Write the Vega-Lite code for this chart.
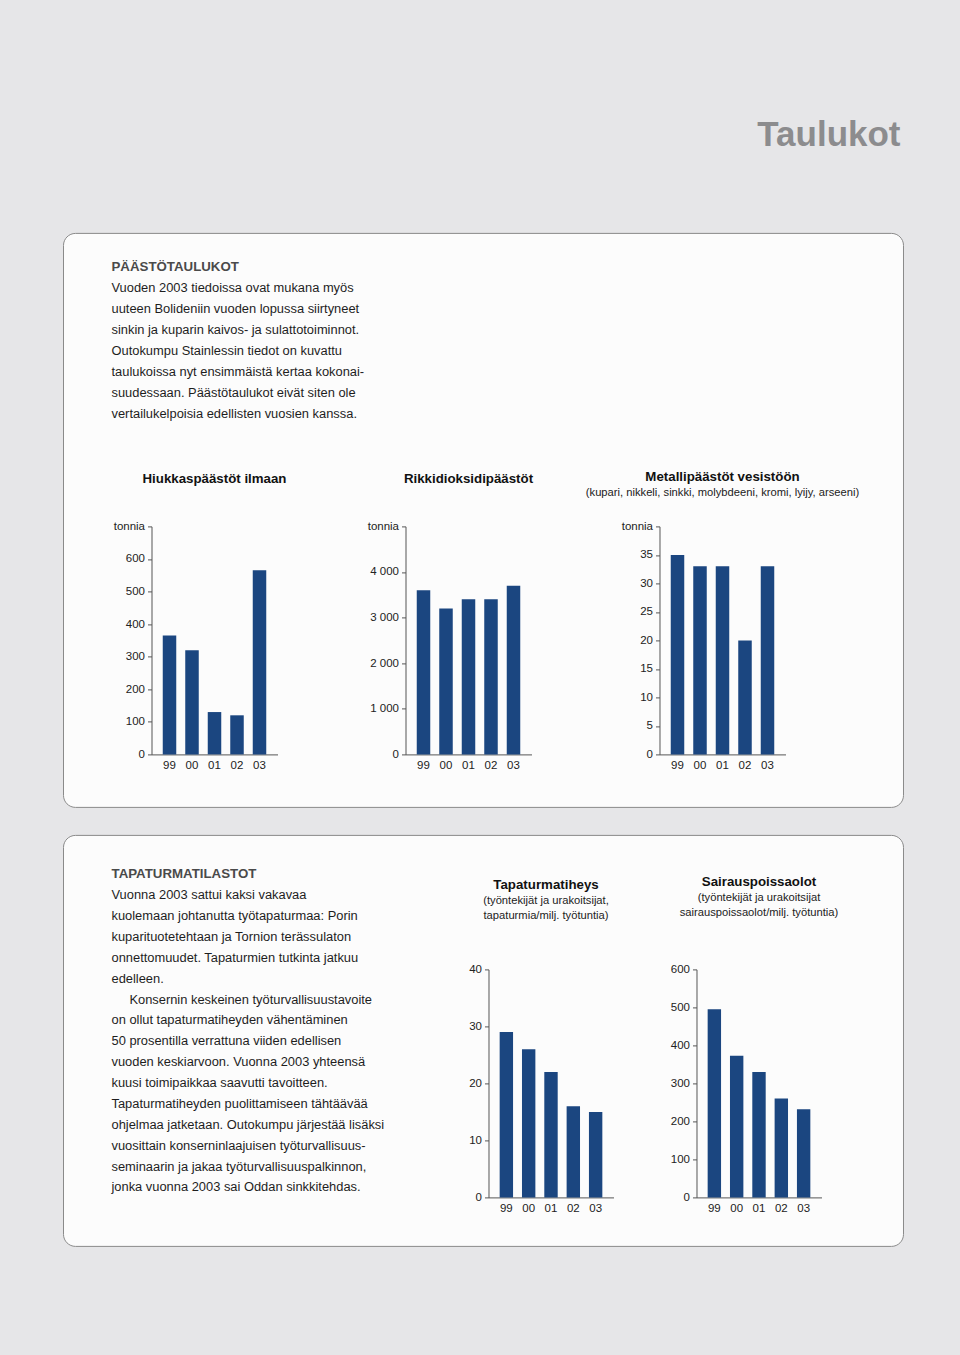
{
  "$schema": "https://vega.github.io/schema/vega-lite/v6.json",
  "background": "#e6e6e8",
  "padding": {"left": 62.5, "top": 117.4, "right": 56.5, "bottom": 110.5},
  "config": {
    "font": "Liberation Sans",
    "view": {"stroke": null},
    "axis": {"grid": false, "domainColor": "#555555", "tickColor": "#555555", "labelColor": "#222222", "labelFont": "Liberation Sans", "labelFontSize": 11.5, "labelOverlap": false, "title": null},
    "title": {"font": "Liberation Sans", "fontSize": 13.3, "fontWeight": "bold", "color": "#111111", "anchor": "middle", "frame": "group", "subtitleFont": "Liberation Sans", "subtitleFontSize": 11.2, "subtitleColor": "#222222", "subtitlePadding": 3.5, "subtitleLineHeight": 15},
    "bar": {"color": "#1b4680"}
  },
  "spacing": 26,
  "vconcat": [
    {
      "bounds": "flush",
      "spacing": 0,
      "vconcat": [
        {
          "width": 840,
          "height": 293,
          "title": {"text": "Taulukot", "anchor": "end", "frame": "group", "offset": 80.2, "dx": -3, "fontSize": 35, "font": "Liberation Sans", "fontWeight": "bold", "color": "#8c8c8e"},
          "resolve": {"scale": {"y": "independent"}},
          "layer": [
            {
              "data": {"values": [{"laatikko": "PÄÄSTÖTAULUKOT"}]},
              "mark": {"type": "rect", "cornerRadius": 12, "fill": "#fcfcfc", "stroke": "#8a8a8a", "strokeWidth": 1},
              "encoding": {
                "x": {"datum": 0, "type": "quantitative", "scale": {"domain": [0, 840], "nice": false}, "axis": null},
                "x2": {"datum": 840},
                "y": {"datum": 0, "type": "quantitative", "scale": {"domain": [0, 293], "reverse": true, "nice": false}, "axis": null},
                "y2": {"datum": 574}
              }
            },
            {
              "data": {"values": [
                {"line": 0, "text": "PÄÄSTÖTAULUKOT"},
                {"line": 1, "text": "Vuoden 2003 tiedoissa ovat mukana myös"},
                {"line": 2, "text": "uuteen Bolideniin vuoden lopussa siirtyneet"},
                {"line": 3, "text": "sinkin ja kuparin kaivos- ja sulattotoiminnot."},
                {"line": 4, "text": "Outokumpu Stainlessin tiedot on kuvattu"},
                {"line": 5, "text": "taulukoissa nyt ensimmäistä kertaa kokonai-"},
                {"line": 6, "text": "suudessaan. Päästötaulukot eivät siten ole"},
                {"line": 7, "text": "vertailukelpoisia edellisten vuosien kanssa."}
              ]},
              "encoding": {
                "x": {"datum": 48, "type": "quantitative"},
                "y": {"field": "line", "type": "quantitative", "scale": {"domain": [-1.619, 12.333], "reverse": true, "nice": false, "zero": false}, "axis": null},
                "text": {"field": "text"}
              },
              "layer": [
                {"transform": [{"filter": "datum.line == 0"}], "mark": {"type": "text", "align": "left", "baseline": "middle", "fontSize": 13.3, "fontWeight": "bold", "color": "#4a4a4a"}},
                {"transform": [{"filter": "datum.line > 0"}], "mark": {"type": "text", "align": "left", "baseline": "middle", "fontSize": 12.9, "color": "#1e1e1e"}}
              ]
            }
          ]
        },
        {
          "bounds": "flush",
          "spacing": 0,
          "hconcat": [
            {"width": 88, "height": 228, "data": {"values": [{"t": ""}]}, "mark": {"type": "text"}, "encoding": {"text": {"field": "t"}}},
            {
              "bounds": "flush",
              "spacing": 128,
              "hconcat": [
                {
                  "width": 126, "height": 228,
                  "title": {"text": "Hiukkaspäästöt ilmaan", "offset": 35},
                  "data": {"values": [{"vuosi": "99", "arvo": 365}, {"vuosi": "00", "arvo": 320}, {"vuosi": "01", "arvo": 130}, {"vuosi": "02", "arvo": 120}, {"vuosi": "03", "arvo": 565}]},
                  "mark": {"type": "bar"},
                  "encoding": {
                    "x": {"field": "vuosi", "type": "nominal", "sort": null, "scale": {"paddingInner": 0.4, "paddingOuter": 0.5}, "axis": {"labelAngle": 0, "ticks": false, "labelPadding": 5}},
                    "y": {"field": "arvo", "type": "quantitative", "scale": {"domain": [0, 700], "nice": false}, "axis": {"values": [0, 100, 200, 300, 400, 500, 600, 700], "labelExpr": "datum.value === 700 ? 'tonnia' : datum.label", "tickSize": 4, "labelPadding": 3}}
                  }
                },
                {
                  "width": 126, "height": 228,
                  "title": {"text": "Rikkidioksidipäästöt", "offset": 35},
                  "data": {"values": [{"vuosi": "99", "arvo": 3600}, {"vuosi": "00", "arvo": 3200}, {"vuosi": "01", "arvo": 3400}, {"vuosi": "02", "arvo": 3400}, {"vuosi": "03", "arvo": 3700}]},
                  "mark": {"type": "bar"},
                  "encoding": {
                    "x": {"field": "vuosi", "type": "nominal", "sort": null, "scale": {"paddingInner": 0.4, "paddingOuter": 0.5}, "axis": {"labelAngle": 0, "ticks": false, "labelPadding": 5}},
                    "y": {"field": "arvo", "type": "quantitative", "scale": {"domain": [0, 5000], "nice": false}, "axis": {"values": [0, 1000, 2000, 3000, 4000, 5000], "labelExpr": "datum.value === 5000 ? 'tonnia' : replace(format(datum.value, ','), ',', ' ')", "tickSize": 4, "labelPadding": 3}}
                  }
                },
                {
                  "width": 126, "height": 228,
                  "title": {"text": "Metallipäästöt vesistöön", "subtitle": "(kupari, nikkeli, sinkki, molybdeeni, kromi, lyijy, arseeni)", "offset": 22},
                  "data": {"values": [{"vuosi": "99", "arvo": 35}, {"vuosi": "00", "arvo": 33}, {"vuosi": "01", "arvo": 33}, {"vuosi": "02", "arvo": 20}, {"vuosi": "03", "arvo": 33}]},
                  "mark": {"type": "bar"},
                  "encoding": {
                    "x": {"field": "vuosi", "type": "nominal", "sort": null, "scale": {"paddingInner": 0.4, "paddingOuter": 0.5}, "axis": {"labelAngle": 0, "ticks": false, "labelPadding": 5}},
                    "y": {"field": "arvo", "type": "quantitative", "scale": {"domain": [0, 40], "nice": false}, "axis": {"values": [0, 5, 10, 15, 20, 25, 30, 35, 40], "labelExpr": "datum.value === 40 ? 'tonnia' : datum.label", "tickSize": 4, "labelPadding": 3}}
                  }
                }
              ]
            }
          ]
        }
      ]
    },
    {
      "bounds": "flush",
      "spacing": 0,
      "vconcat": [
        {
          "width": 840,
          "height": 133.5,
          "resolve": {"scale": {"y": "independent"}},
          "layer": [
            {
              "data": {"values": [{"laatikko": "TAPATURMATILASTOT"}]},
              "mark": {"type": "rect", "cornerRadius": 12, "fill": "#fcfcfc", "stroke": "#8a8a8a", "strokeWidth": 1},
              "encoding": {
                "x": {"datum": 0, "type": "quantitative", "scale": {"domain": [0, 840], "nice": false}, "axis": null},
                "x2": {"datum": 840},
                "y": {"datum": 0, "type": "quantitative", "scale": {"domain": [0, 133.5], "reverse": true, "nice": false}, "axis": null},
                "y2": {"datum": 411}
              }
            },
            {
              "data": {"values": [
                {"line": 0, "text": "TAPATURMATILASTOT"},
                {"line": 1, "text": "Vuonna 2003 sattui kaksi vakavaa"},
                {"line": 2, "text": "kuolemaan johtanutta työtapaturmaa: Porin"},
                {"line": 3, "text": "kuparituotetehtaan ja Tornion terässulaton"},
                {"line": 4, "text": "onnettomuudet. Tapaturmien tutkinta jatkuu"},
                {"line": 5, "text": "edelleen."},
                {"line": 6, "text": "\u200b\u00a0\u00a0\u00a0\u00a0\u00a0Konsernin keskeinen työturvallisuustavoite"},
                {"line": 7, "text": "on ollut tapaturmatiheyden vähentäminen"},
                {"line": 8, "text": "50 prosentilla verrattuna viiden edellisen"},
                {"line": 9, "text": "vuoden keskiarvoon. Vuonna 2003 yhteensä"},
                {"line": 10, "text": "kuusi toimipaikkaa saavutti tavoitteen."},
                {"line": 11, "text": "Tapaturmatiheyden puolittamiseen tähtäävää"},
                {"line": 12, "text": "ohjelmaa jatketaan. Outokumpu järjestää lisäksi"},
                {"line": 13, "text": "vuosittain konserninlaajuisen työturvallisuus-"},
                {"line": 14, "text": "seminaarin ja jakaa työturvallisuuspalkinnon,"},
                {"line": 15, "text": "jonka vuonna 2003 sai Oddan sinkkitehdas."}
              ]},
              "encoding": {
                "x": {"datum": 48, "type": "quantitative"},
                "y": {"field": "line", "type": "quantitative", "scale": {"domain": [-1.874, 4.526], "reverse": true, "nice": false, "zero": false}, "axis": null},
                "text": {"field": "text"}
              },
              "layer": [
                {"transform": [{"filter": "datum.line == 0"}], "mark": {"type": "text", "align": "left", "baseline": "middle", "fontSize": 13.3, "fontWeight": "bold", "color": "#4a4a4a"}},
                {"transform": [{"filter": "datum.line > 0"}], "mark": {"type": "text", "align": "left", "baseline": "middle", "fontSize": 12.9, "color": "#1e1e1e"}}
              ]
            }
          ]
        },
        {
          "bounds": "flush",
          "spacing": 83,
          "hconcat": [
            {"width": 342, "height": 228, "data": {"values": [{"t": ""}]}, "mark": {"type": "text"}, "encoding": {"text": {"field": "t"}}},
            {
              "width": 125, "height": 228,
              "title": {"text": "Tapaturmatiheys", "subtitle": ["(työntekijät ja urakoitsijat,", "tapaturmia/milj. työtuntia)"], "offset": 42.5, "dx": -5},
              "data": {"values": [{"vuosi": "99", "arvo": 29}, {"vuosi": "00", "arvo": 26}, {"vuosi": "01", "arvo": 22}, {"vuosi": "02", "arvo": 16}, {"vuosi": "03", "arvo": 15}]},
              "mark": {"type": "bar"},
              "encoding": {
                "x": {"field": "vuosi", "type": "nominal", "sort": null, "scale": {"paddingInner": 0.4, "paddingOuter": 0.5}, "axis": {"labelAngle": 0, "ticks": false, "labelPadding": 5}},
                "y": {"field": "arvo", "type": "quantitative", "scale": {"domain": [0, 40], "nice": false}, "axis": {"values": [0, 10, 20, 30, 40], "tickSize": 4, "labelPadding": 3}}
              }
            },
            {
              "width": 125, "height": 228,
              "title": {"text": "Sairauspoissaolot", "subtitle": ["(työntekijät ja urakoitsijat", "sairauspoissaolot/milj. työtuntia)"], "offset": 45},
              "data": {"values": [{"vuosi": "99", "arvo": 495}, {"vuosi": "00", "arvo": 373}, {"vuosi": "01", "arvo": 330}, {"vuosi": "02", "arvo": 260}, {"vuosi": "03", "arvo": 232}]},
              "mark": {"type": "bar"},
              "encoding": {
                "x": {"field": "vuosi", "type": "nominal", "sort": null, "scale": {"paddingInner": 0.4, "paddingOuter": 0.5}, "axis": {"labelAngle": 0, "ticks": false, "labelPadding": 5}},
                "y": {"field": "arvo", "type": "quantitative", "scale": {"domain": [0, 600], "nice": false}, "axis": {"values": [0, 100, 200, 300, 400, 500, 600], "tickSize": 4, "labelPadding": 3}}
              }
            }
          ]
        }
      ]
    }
  ]
}
